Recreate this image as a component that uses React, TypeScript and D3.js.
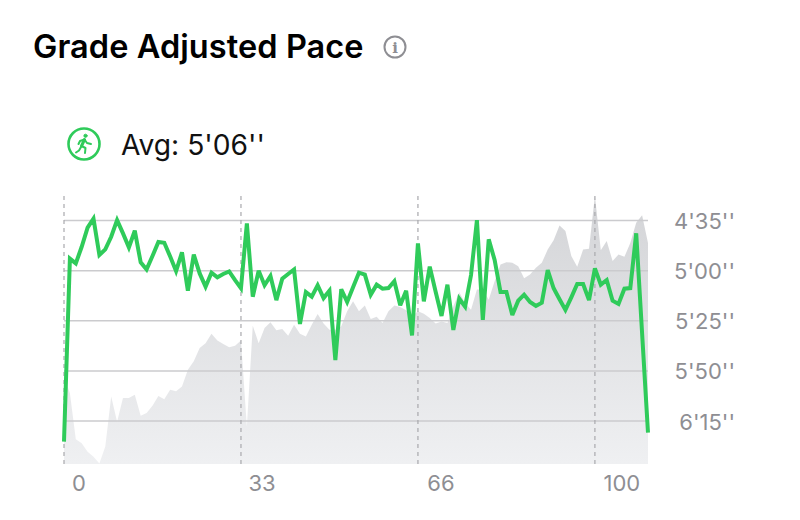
import { scaleLinear, line, area } from 'd3';

// Pace per split, seconds per km (lower is faster, so the axis runs downwards)
const paceSeconds = [
  385.3, 294.0, 296.4, 288.1, 278.6, 274.1, 292.2, 289.4, 283.1, 274.8,
  281.4, 288.4, 280.1, 295.9, 299.4, 292.7, 285.7, 286.1, 293.0, 300.2,
  290.9, 310.0, 292.0, 301.4, 308.0, 301.0, 303.3, 301.7, 300.4, 304.7,
  308.8, 276.4, 313.0, 300.0, 307.3, 302.7, 314.7, 304.0, 301.7, 299.4,
  326.6, 310.7, 313.0, 307.3, 313.7, 310.0, 344.6, 309.3, 315.6, 308.3,
  301.0, 302.0, 312.0, 307.0, 309.0, 308.7, 305.3, 317.3, 310.0, 332.3,
  286.4, 315.3, 298.0, 310.5, 322.6, 307.0, 329.6, 314.0, 318.0, 302.2,
  274.8, 324.6, 284.4, 294.7, 310.7, 310.7, 322.1, 315.0, 312.0, 315.6,
  317.6, 316.0, 299.7, 308.8, 314.3, 319.6, 313.3, 306.7, 306.7, 314.7,
  298.9, 307.0, 304.7, 315.0, 316.6, 309.0, 308.7, 281.4, 331.3, 380.8,
];

// Background elevation, relative units
const elevation = [
  32.7, 26.4, 9.2, 7.7, 4.6, 2.7, 0.2, 6.5, 25.2, 15.8,
  24.6, 24.6, 25.8, 18.0, 19.0, 21.7, 25.4, 24.2, 27.7, 27.1,
  28.9, 35.2, 38.3, 43.3, 45.1, 48.6, 46.1, 44.8, 43.6, 44.1,
  46.1, 14.0, 51.6, 45.1, 50.7, 52.9, 49.9, 50.4, 47.9, 52.0,
  48.6, 47.6, 52.0, 56.0, 52.4, 50.1, 50.1, 51.4, 57.0, 60.7,
  57.0, 59.1, 54.1, 54.9, 52.6, 57.0, 59.1, 58.6, 57.4, 55.1,
  57.0, 56.1, 54.5, 52.4, 53.2, 52.6, 58.9, 64.1, 60.1, 57.6,
  65.1, 65.1, 61.3, 68.2, 74.4, 75.3, 75.1, 73.8, 69.3, 70.7,
  73.2, 75.1, 80.0, 83.5, 89.0, 86.9, 77.6, 73.6, 80.0, 80.3,
  100.0, 79.8, 83.2, 75.7, 78.2, 77.3, 82.5, 90.0, 92.8, 82.5,
];

const paceTicks = [275, 300, 325, 350, 375];
const paceLabels = ["4'35''", "5'00''", "5'25''", "5'50''", "6'15''"];
const splitTicks = [0, 30, 60, 90];
const splitLabels = ['0', '33', '66', '100'];

const GREEN = '#2fcb5a';
const GRAY_TEXT = '#8e8e93';
const FONT = 'Inter, "Liberation Sans", sans-serif';

const PLOT = { left: 64, right: 648, top: 196, bottom: 464 };
// Tick labels sit a little right of their dashed guide
const LABEL_SHIFT = [15, 21, 23, 27];

export default function App() {
  const x = scaleLinear().domain([0, paceSeconds.length - 1]).range([PLOT.left, PLOT.right]);
  const yPace = scaleLinear().domain([275, 375]).range([220.5, 421]);
  const yElev = scaleLinear().domain([0, 100]).range([PLOT.bottom, PLOT.top]);

  const paceLine = line<number>().x((_, i) => x(i)).y((d) => yPace(d));
  const elevArea = area<number>().x((_, i) => x(i)).y0(PLOT.bottom).y1((d) => yElev(d));

  return (
    <svg
      width={800}
      height={520}
      style={{ position: 'absolute', left: 0, top: 0, background: '#fff', fontFamily: FONT }}
    >
      <defs>
        <linearGradient id="elevFill" x1="0" x2="0" y1={PLOT.top} y2={PLOT.bottom} gradientUnits="userSpaceOnUse">
          <stop offset="0%" stopColor="#d3d4d7" />
          <stop offset="100%" stopColor="#eff0f2" />
        </linearGradient>
      </defs>

      {/* Header */}
      <text x={33} y={58} fontSize={32.5} fontWeight={600} fill="#000" letterSpacing="0.07">
        Grade Adjusted Pace
      </text>
      <circle cx={395} cy={47} r={10.5} fill="none" stroke={GRAY_TEXT} strokeWidth={2} />
      <text x={395} y={53} fontSize={15} fontWeight={600} fill={GRAY_TEXT} textAnchor="middle" fontFamily="'DejaVu Serif', serif">
        i
      </text>

      {/* Average badge */}
      <circle cx={84} cy={144} r={15.5} fill="none" stroke={GREEN} strokeWidth={2.6} />
      <g fill="none" stroke={GREEN} strokeWidth={2} strokeLinecap="round" strokeLinejoin="round">
        <circle cx={85.5} cy={135.8} r={1.6} fill={GREEN} strokeWidth={1} />
        <path d="M84.5 139.5 L81.5 146" strokeWidth={3} />
        <path d="M84.5 139.5 L80 141 L78.5 144" />
        <path d="M84.5 139.5 L87 143 L91 144" />
        <path d="M81.5 146 L85.5 148 L85 153" />
        <path d="M81 147 L79 150.5 L76 152.5" />
      </g>
      <text x={121} y={155} fontSize={28.2} fill="#111">
        Avg: 5'06''
      </text>

      {/* Elevation backdrop */}
      <path d={elevArea(elevation) ?? ''} fill="url(#elevFill)" />

      {/* Pace gridlines */}
      {paceTicks.map((t, i) => (
        <g key={t}>
          <line x1={PLOT.left} x2={PLOT.right} y1={yPace(t)} y2={yPace(t)} stroke="#cbcbce" strokeWidth={1.5} />
          <text x={735} y={yPace(t) + 8.5} fontSize={22} fill={GRAY_TEXT} textAnchor="end">
            {paceLabels[i]}
          </text>
        </g>
      ))}

      {/* Split guides */}
      {splitTicks.map((t, i) => (
        <g key={t}>
          <line
            x1={x(t)} x2={x(t)}
            y1={PLOT.top} y2={PLOT.bottom}
            stroke="#a9a9ad" strokeWidth={1.2} strokeDasharray="4 4"
          />
          <text x={x(t) + LABEL_SHIFT[i]} y={491} fontSize={22} fill={GRAY_TEXT} textAnchor="middle">
            {splitLabels[i]}
          </text>
        </g>
      ))}

      {/* Pace line */}
      <path d={paceLine(paceSeconds) ?? ''} fill="none" stroke={GREEN} strokeWidth={4} strokeLinejoin="miter" strokeMiterlimit={3} />
    </svg>
  );
}
